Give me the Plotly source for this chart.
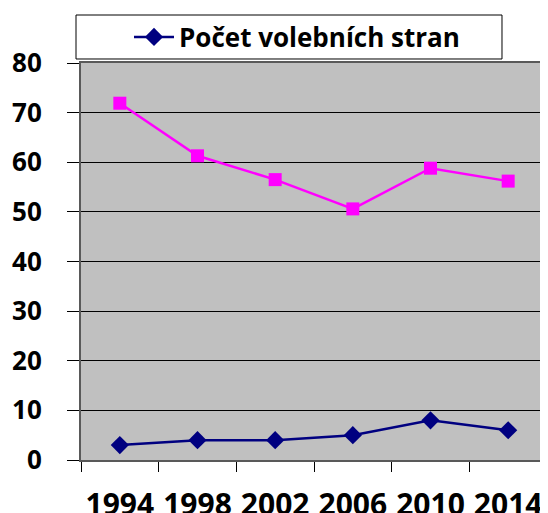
import plotly.graph_objects as go

years = ["1994", "1998", "2002", "2006", "2010", "2014"]
pocet_stran = [3, 4, 4, 5, 8, 6]
ucast = [71.9, 61.3, 56.5, 50.6, 58.8, 56.2]

FONT = "Open Sans"

fig = go.Figure()

fig.add_trace(go.Scatter(
    x=years, y=ucast,
    mode="lines+markers",
    line=dict(color="#FF00FF", width=2.5),
    marker=dict(symbol="square", size=13, color="#FF00FF"),
    showlegend=False,
))

fig.add_trace(go.Scatter(
    x=years, y=pocet_stran,
    mode="lines+markers",
    name="Počet volebních stran",
    line=dict(color="#000080", width=2.5),
    marker=dict(symbol="diamond", size=14, color="#000080"),
))

# legend frame drawn as a shape so the entry can sit further right inside it
fig.add_shape(
    type="rect", xref="paper", yref="paper",
    x0=-0.0107, x1=0.9034, y0=1.0101, y1=1.1209,
    fillcolor="white", line=dict(color="black", width=1),
    layer="above",
)

# page body has an 8px margin, so the figure is 8px smaller than the window
fig.update_layout(
    width=540, height=505,
    paper_bgcolor="white",
    plot_bgcolor="#C0C0C0",
    margin=dict(l=73, r=1, t=55, b=53, autoexpand=False),
    font=dict(family=FONT, color="black"),
    legend=dict(
        x=0.103, y=1.0655, xanchor="left", yanchor="middle",
        orientation="h",
        bgcolor="rgba(0,0,0,0)", borderwidth=0,
        font=dict(family=FONT, size=26, weight="bold"),
        itemwidth=40,
    ),
)

fig.update_xaxes(
    type="category",
    range=[-0.5, 5.5],
    tickson="boundaries",
    ticks="outside", ticklen=10, tickcolor="black",
    tickangle=0, automargin=False,
    ticklabelstandoff=17,
    showgrid=False,
    showline=True, linecolor="#595959", linewidth=2, mirror=True,
    tickfont=dict(family=FONT, size=30, weight="bold"),
)

fig.update_yaxes(
    range=[0, 80], dtick=10,
    ticks="outside", ticklen=12, tickcolor="black",
    automargin=False,
    ticklabelstandoff=20,
    showgrid=True, gridcolor="black", gridwidth=1,
    zeroline=False,
    showline=True, linecolor="#595959", linewidth=2, mirror=True,
    tickfont=dict(family=FONT, size=26, weight="bold"),
)

fig.write_html("out.html")
